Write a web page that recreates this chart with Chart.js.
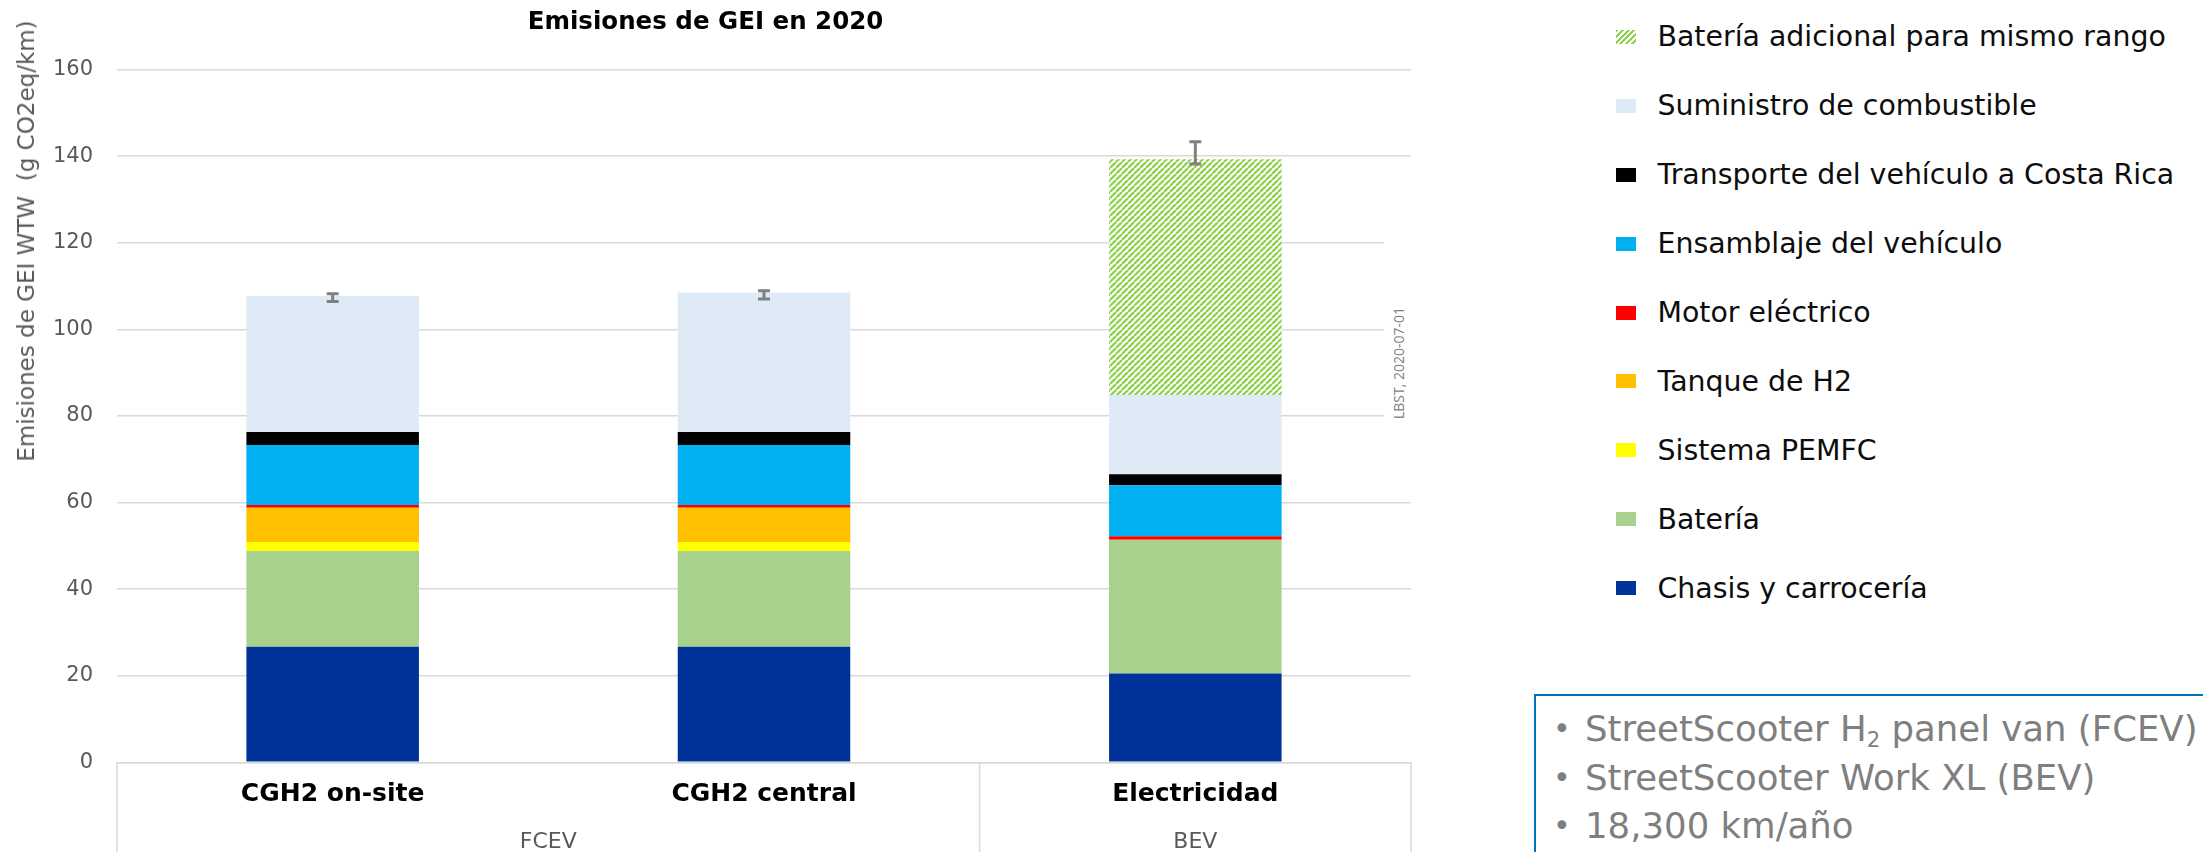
<!DOCTYPE html>
<html lang="es">
<head>
  <meta charset="UTF-8">
  <title>Emisiones de GEI en 2020</title>
  <script src="https://cdn.jsdelivr.net/npm/chart.js"></script>
  <style>
    body { margin: 0; width: 2203px; height: 852px; background: #fff; position: relative; overflow: hidden; font-family: 'DejaVu Sans', sans-serif; }
    .chart-box { position: absolute; left: 0; top: 0; width: 1424px; height: 852px; }
    .y-title { position: absolute; left: 26px; top: 241px; transform: translate(-50%, -50%) rotate(-90deg); white-space: pre; font-size: 23px; color: #595959; }
    .group { position: absolute; top: 840px; transform: translate(-50%, -50%); font-size: 22px; color: #595959; white-space: nowrap; }
    .stamp { position: absolute; left: 1384px; top: 236px; width: 28px; height: 186px; background: #fff; }
    .stamp span { position: absolute; left: 50%; top: 126.5px; transform: translate(-50%, -50%) rotate(-90deg); white-space: nowrap; font-family: 'Open Sans', sans-serif; font-size: 14px; color: #808080; }
    .legend { position: absolute; left: 1616px; top: 2.5px; }
    .legend div { height: 68.9px; display: flex; align-items: center; font-size: 28.4px; color: #0d0d0d; white-space: nowrap; }
    .legend i { display: inline-block; width: 20px; height: 14px; margin-right: 21.5px; }
    .note { position: absolute; left: 1534px; top: 694px; right: 0; bottom: 0; border-top: 2px solid #0070c0; border-left: 2px solid #0070c0; padding: 9px 0 0 17px; color: #7f7f7f; font-size: 35.5px; }
    .note div { height: 48.5px; line-height: 48.5px; white-space: nowrap; }
    .note b { display: inline-block; width: 32px; font-weight: normal; font-size: 30px; vertical-align: top; }
    .note sub { font-size: 0.6em; vertical-align: -0.3em; line-height: 0; }
  </style>
</head>
<body>
  <div class="chart-box">
    <canvas id="ghgChart" width="1424" height="852"></canvas>
  </div>
  <div class="y-title">Emisiones de GEI WTW  (g CO2eq/km)</div>
  <div class="stamp"><span>LBST, 2020-07-01</span></div>

  <!-- legend, top item = last stack segment -->
  <div class="legend" id="legend"></div>

  <div class="note">
    <div><b>•</b>StreetScooter H<sub>2</sub> panel van (FCEV)</div>
    <div><b>•</b>StreetScooter Work XL (BEV)</div>
    <div><b>•</b>18,300 km/año</div>
  </div>

  <script>
    // values, g CO2eq/km
    const categories = ['CGH2 on-site', 'CGH2 central', 'Electricidad'];
    const groupLabels = ['FCEV', 'BEV'];
    const groupCenters = [0.5, 2];
    const groupEdges = [-0.5, 1.5, 2.5];

    const chasis = [26.7, 26.7, 20.5];
    const bateria = [22.1, 22.1, 30.9];
    const pemfc = [2.1, 2.1, 0];
    const tanqueH2 = [7.9, 7.9, 0];
    const motor = [0.6, 0.6, 0.8];
    const ensamblaje = [13.9, 13.9, 11.8];
    const transporte = [3.0, 3.0, 2.5];
    const suministro = [31.4, 32.2, 18.3];
    const bateriaExtra = [0, 0, 54.5];

    const errLow = [106.4, 107.0, 138.2];
    const errHigh = [108.2, 108.9, 143.3];

    const yTicks = [0, 20, 40, 60, 80, 100, 120, 140, 160];

    Chart.defaults.font.family = "'DejaVu Sans', sans-serif";

    // diagonal hatch for the extra battery
    function hatch() {
      const c = document.createElement('canvas');
      c.width = 6; c.height = 6;
      const g = c.getContext('2d');
      g.fillStyle = '#fff';
      g.fillRect(0, 0, 6, 6);
      g.strokeStyle = '#92d050';
      g.lineWidth = 2.3;
      [-6, 0, 6].forEach(o => {
        g.beginPath();
        g.moveTo(o, 6); g.lineTo(o + 6, 0);
        g.stroke();
      });
      return g.createPattern(c, 'repeat');
    }

    const series = [
      { label: 'Chasis y carrocería', data: chasis, color: '#003399' },
      { label: 'Batería', data: bateria, color: '#a9d18e' },
      { label: 'Sistema PEMFC', data: pemfc, color: '#ffff00' },
      { label: 'Tanque de H2', data: tanqueH2, color: '#ffc000' },
      { label: 'Motor eléctrico', data: motor, color: '#ff0000' },
      { label: 'Ensamblaje del vehículo', data: ensamblaje, color: '#00b0f0' },
      { label: 'Transporte del vehículo a Costa Rica', data: transporte, color: '#000000' },
      { label: 'Suministro de combustible', data: suministro, color: '#deebf7' },
      { label: 'Batería adicional para mismo rango', data: bateriaExtra, color: hatch(),
        swatch: 'repeating-linear-gradient(135deg, #92d050 0 2px, #fff 2px 4px)' }
    ];

    const legend = document.getElementById('legend');
    series.slice().reverse().forEach(s => {
      const row = document.createElement('div');
      const box = document.createElement('i');
      box.style.background = s.swatch || s.color;
      row.appendChild(box);
      row.appendChild(document.createTextNode(s.label));
      legend.appendChild(row);
    });

    // error bars + category box lines
    const extras = {
      id: 'extras',
      afterDatasetsDraw(chart) {
        const { ctx, chartArea, scales: { x, y } } = chart;
        const meta = chart.getDatasetMeta(0);
        ctx.save();
        ctx.strokeStyle = '#808080';
        ctx.lineWidth = 3;
        meta.data.forEach((bar, i) => {
          const lo = y.getPixelForValue(errLow[i]);
          const hi = y.getPixelForValue(errHigh[i]);
          ctx.beginPath();
          ctx.moveTo(bar.x, lo); ctx.lineTo(bar.x, hi);
          ctx.moveTo(bar.x - 6, lo); ctx.lineTo(bar.x + 6, lo);
          ctx.moveTo(bar.x - 6, hi); ctx.lineTo(bar.x + 6, hi);
          ctx.stroke();
        });
        ctx.strokeStyle = '#d9d9d9';
        ctx.lineWidth = 1.5;
        groupEdges.forEach(v => {
          const px = x.getPixelForValue(v);
          ctx.beginPath();
          ctx.moveTo(px, chartArea.bottom);
          ctx.lineTo(px, chart.height);
          ctx.stroke();
        });
        ctx.restore();
      }
    };

    const chart = new Chart(document.getElementById('ghgChart'), {
      type: 'bar',
      data: {
        labels: categories,
        datasets: series.map(s => ({
          label: s.label,
          data: s.data,
          backgroundColor: s.color,
          borderWidth: 0,
          categoryPercentage: 1,
          barPercentage: 0.4
        }))
      },
      options: {
        responsive: false,
        animation: false,
        layout: { padding: { right: 13 } },
        plugins: {
          legend: { display: false },
          tooltip: { enabled: false },
          title: {
            display: true,
            text: 'Emisiones de GEI en 2020',
            color: '#000',
            font: { size: 24.5, weight: 'bold' },
            padding: { top: 8, bottom: 32.1 }
          }
        },
        scales: {
          x: {
            stacked: true,
            grid: { drawOnChartArea: false, drawTicks: false },
            border: { color: '#d9d9d9', width: 1.5 },
            ticks: { color: '#000', font: { size: 25, weight: 'bold' }, padding: 17 },
            afterFit: s => { s.height = 89.7; }
          },
          y: {
            stacked: true,
            min: 0,
            max: 160,
            afterBuildTicks: s => { s.ticks = yTicks.map(v => ({ value: v })); },
            grid: { color: '#d9d9d9', lineWidth: 1.5, drawTicks: false },
            border: { display: false },
            ticks: { color: '#595959', font: { size: 21 }, padding: 24 },
            afterFit: s => { s.width = 117; }
          }
        }
      },
      plugins: [extras]
    });

    // second level of the category axis (FCEV / BEV)
    groupLabels.forEach((t, i) => {
      const d = document.createElement('div');
      d.className = 'group';
      d.textContent = t;
      d.style.left = chart.scales.x.getPixelForValue(groupCenters[i]) + 'px';
      document.body.appendChild(d);
    });
  </script>
</body>
</html>
